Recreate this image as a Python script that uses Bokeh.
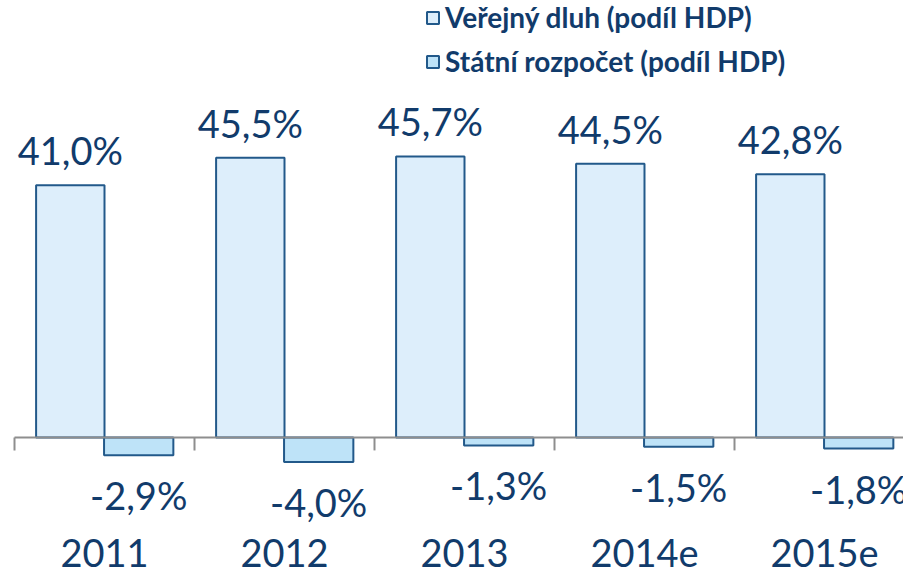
from bokeh.plotting import figure
from bokeh.models import Range1d, FixedTicker, LinearAxis, ColumnDataSource, Legend, LegendItem, LabelSet
from bokeh.transform import dodge
from bokeh.core.properties import value
from bokeh.embed import file_html
from bokeh.resources import INLINE

years = ["2011", "2012", "2013", "2014e", "2015e"]
debt = [41.0, 45.5, 45.7, 44.5, 42.8]
budget = [-2.9, -4.0, -1.3, -1.5, -1.8]
series_names = ["Veřejný dluh (podíl HDP)", "Státní rozpočet (podíl HDP)"]

def fmt(v):
    return f"{v:.1f}".replace(".", ",") + "%"

NAVY = "#113B6B"
OUTLINE = "#22598A"
FILL1 = "#DDEEFB"
FILL2 = "#BEE3F8"
AXIS = "#8E8E8E"
FONT = "Lato"

xs = list(range(len(years)))
src = ColumnDataSource(dict(
    x=xs, debt=debt, budget=budget,
    debt_lbl=[fmt(v) for v in debt],
    budget_lbl=[fmt(v) for v in budget],
))

W, H = 903, 570
p = figure(width=W, height=H, output_backend="svg", toolbar_location=None,
           x_range=Range1d(-0.5778, 4.4389), y_range=Range1d(-14.31, 71.06),
           min_border_left=0, min_border_right=0, min_border_top=0, min_border_bottom=45,
           x_axis_type=None, y_axis_type=None)
p.outline_line_color = None
p.grid.visible = False
p.background_fill_color = "white"

r1 = p.vbar(x=dodge("x", -0.19, range=p.x_range), top="debt", bottom=0, width=0.38,
            source=src, fill_color=FILL1, line_color=OUTLINE, line_width=2)
r2 = p.vbar(x=dodge("x", 0.19, range=p.x_range), top="budget", bottom=0, width=0.385,
            source=src, fill_color=FILL2, line_color=OUTLINE, line_width=2)

# axis line and category boundary ticks
bounds = [i - 0.5 for i in range(len(years) + 1)]
p.segment(x0=[bounds[0]], x1=[bounds[-1]], y0=[0], y1=[0], line_color=AXIS, line_width=2)
p.segment(x0=bounds, x1=bounds, y0=[0] * len(bounds), y1=[-2.1] * len(bounds),
          line_color=AXIS, line_width=2)

# value labels
p.add_layout(LabelSet(x=dodge("x", -0.19, range=p.x_range), y="debt", text="debt_lbl", source=src,
                      text_align="center", text_baseline="alphabetic", y_offset=20,
                      text_font=value(FONT), text_font_size=value("38px"), text_color=value(NAVY)))
p.add_layout(LabelSet(x=dodge("x", 0.19, range=p.x_range), y="budget", text="budget_lbl", source=src,
                      text_align="center", text_baseline="alphabetic", y_offset=-55,
                      text_font=value(FONT), text_font_size=value("38px"), text_color=value(NAVY)))

# category axis
xaxis = LinearAxis(ticker=FixedTicker(ticks=xs),
                   major_label_overrides={i: y for i, y in enumerate(years)})
xaxis.axis_line_color = None
xaxis.major_tick_line_color = None
xaxis.minor_tick_line_color = None
xaxis.major_label_text_font = FONT
xaxis.major_label_text_font_size = "38px"
xaxis.major_label_text_color = NAVY
xaxis.major_label_standoff = 7
p.add_layout(xaxis, "below")

legend = Legend(items=[LegendItem(label=series_names[0], renderers=[r1]),
                       LegendItem(label=series_names[1], renderers=[r2])],
                location=(425, 447), orientation="vertical",
                glyph_width=15, glyph_height=15, label_standoff=5,
                label_text_font=FONT, label_text_font_size="28px",
                label_text_font_style="bold", label_text_color=NAVY,
                label_height=30, spacing=10, padding=0, margin=0,
                border_line_color=None, background_fill_alpha=0)
p.add_layout(legend)

open("out.html", "w").write(file_html(p, INLINE))
